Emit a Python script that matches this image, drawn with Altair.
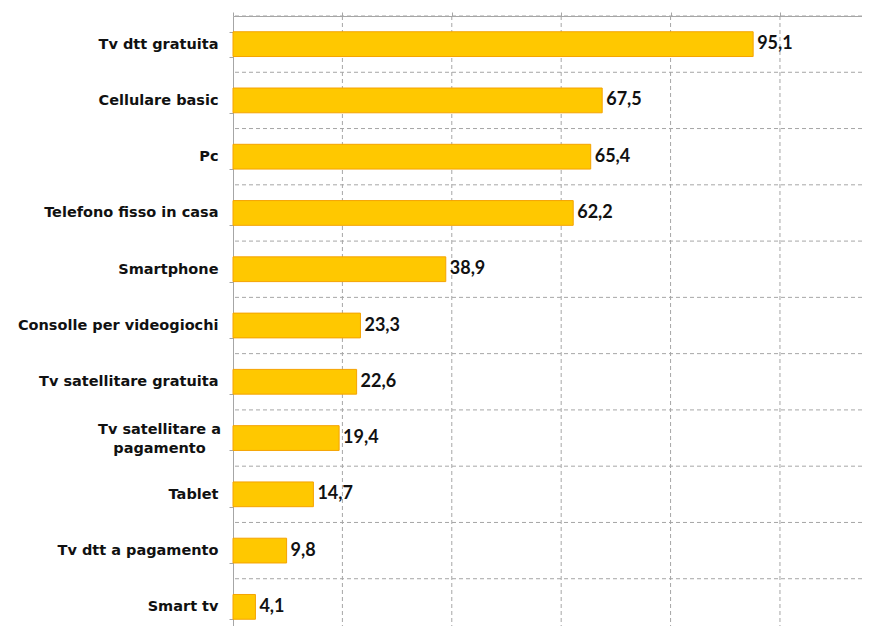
import altair as alt
import pandas as pd

categories = [
    "Tv dtt gratuita",
    "Cellulare basic",
    "Pc",
    "Telefono fisso in casa",
    "Smartphone",
    "Consolle per videogiochi",
    "Tv satellitare gratuita",
    "Tv satellitare a pagamento",
    "Tablet",
    "Tv dtt a pagamento",
    "Smart tv",
]
values = [95.1, 67.5, 65.4, 62.2, 38.9, 23.3, 22.6, 19.4, 14.7, 9.8, 4.1]
x_ticks = [0, 20, 40, 60, 80, 100]

labels = [f"{v:.1f}".replace(".", ",") for v in values]
df = pd.DataFrame({"cat": categories, "val": values, "lab": labels})
grid_df = pd.DataFrame({"val": x_ticks[1:]})

GRID = "#A6A6A6"
TEXT = "#111111"
MULTI = "datum.value == 'Tv satellitare a pagamento'"
PAD_IN = 0.56
PAD_OUT = 0.28
RANGE_H = 619
STEP = RANGE_H / len(categories)

y_scale = alt.Scale(paddingInner=PAD_IN, paddingOuter=PAD_OUT, range=[0, RANGE_H])

y_enc = alt.Y(
    "cat:N",
    sort=categories,
    scale=y_scale,
    axis=alt.Axis(
        title=None,
        orient="left",
        tickBand="extent",
        grid=False,
        domainColor=GRID,
        tickColor=GRID,
        tickSize=4,
        labelPadding={"condition": {"test": MULTI, "value": 70}, "value": 11},
        labelAlign={"condition": {"test": MULTI, "value": "center"}, "value": "right"},
        labelOffset={"condition": {"test": MULTI, "value": -8.5}, "value": 0},
        labelFont="DejaVu Sans",
        labelFontWeight="bold",
        labelFontSize=14.5,
        labelColor=TEXT,
        labelLineHeight=19,
        labelLimit=300,
        labelExpr=MULTI + " ? ['Tv satellitare a', 'pagamento'] : datum.value",
    ),
)

x_enc = alt.X(
    "val:Q",
    scale=alt.Scale(domain=[0, 115], nice=False, zero=True),
    axis=alt.Axis(
        title=None,
        orient="top",
        values=x_ticks,
        labels=False,
        grid=False,
        domainColor=GRID,
        tickColor=GRID,
        tickSize=4,
    ),
)

vgrid = alt.Chart(grid_df).mark_rule(
    color=GRID, strokeDash=[4, 3], strokeWidth=1
).encode(x=x_enc)

# horizontal dashed separators at the boundaries between categories
hgrid = alt.Chart(df).mark_rule(
    color=GRID, strokeDash=[4, 3], strokeWidth=1,
    yOffset=-(PAD_IN * STEP) / 2,
).encode(
    y=alt.Y("cat:N", sort=categories, scale=y_scale, bandPosition=0),
)

bars = alt.Chart(df).mark_bar(
    color="#FFC800", stroke="#F5A300", strokeWidth=1
).encode(x=x_enc, y=y_enc)

text = alt.Chart(df).mark_text(
    align="left", baseline="middle", dx=4, font="Lato", fontWeight="bold",
    fontSize=18, color=TEXT
).encode(x=x_enc, y=y_enc, text="lab:N")

chart = (
    alt.layer(vgrid, hgrid, bars, text)
    .properties(
        width=629,
        height=610,
        autosize=alt.AutoSizeParams(type="none"),
        padding={"left": 225, "top": 8, "right": 0, "bottom": 0},
    )
    .configure_view(strokeWidth=0)
)

chart.save("out.html", embed_options={"renderer": "svg", "actions": False})
